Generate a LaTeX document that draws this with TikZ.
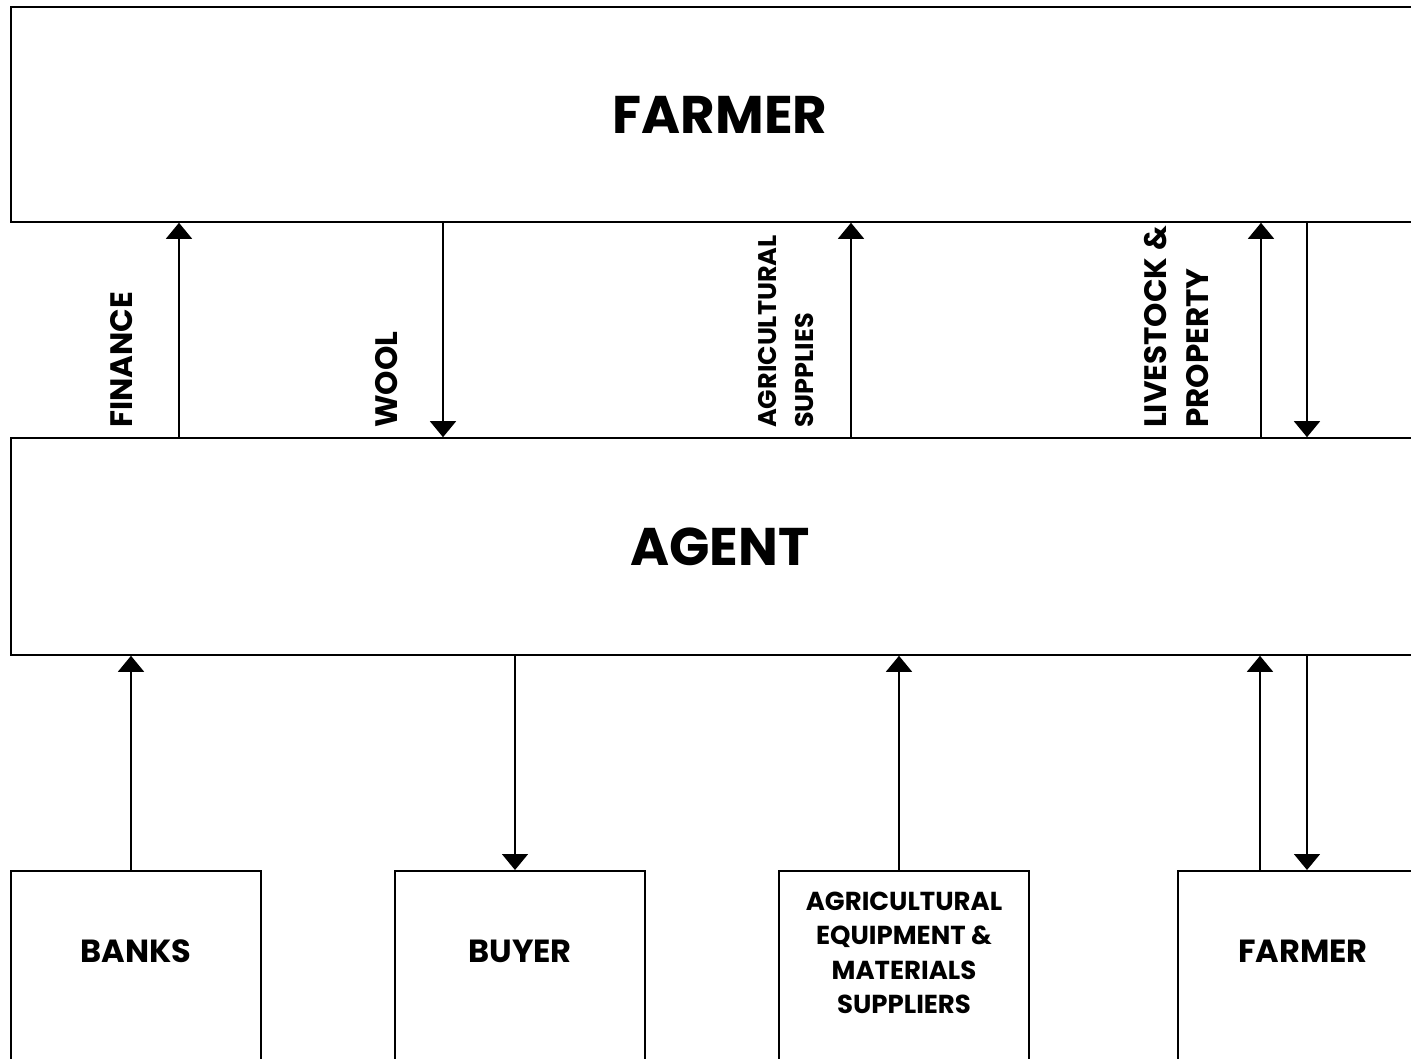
\documentclass[tikz,border=0pt]{standalone}
\usepackage{fontspec}
\setmainfont{Poppins}
\usetikzlibrary{arrows.meta}
\usetikzlibrary{positioning}

\tikzset{
  bigbox/.style={draw, line width=1.6pt, minimum width=1418pt, inner sep=0pt, font=\bfseries\fontsize{53}{60}\selectfont},
  lowbox/.style={draw, line width=1.6pt, anchor=north, minimum width=250pt, minimum height=260pt},
  boxtext/.style={inner sep=0pt, align=center, font=\bfseries\fontsize{32}{40}\selectfont},
  smalltext/.style={inner sep=0pt, align=center, font=\bfseries\fontsize{26}{34.5}\selectfont},
  vlabel/.style={inner sep=0pt, rotate=90, anchor=west, align=left, font=\bfseries\fontsize{31}{42}\selectfont},
  vsmall/.style={vlabel, font=\bfseries\fontsize{25.5}{37}\selectfont},
  flow/.style={line width=1.6pt, -{Triangle[width=26pt,length=16pt]}}
}

\begin{document}
\begin{tikzpicture}[x=1pt,y=-1pt]
\useasboundingbox (0,0) rectangle (1411,1059);
\clip (0,0) rectangle (1411,1059);
% main boxes (run off the right edge)
\node[bigbox, minimum height=215pt] (farmerTop) at (720,114.5) {\raisebox{-4pt}{FARMER}};
\node[bigbox, minimum height=217pt] (agent) at (720,546.5) {\raisebox{-4pt}{AGENT}};
% lower boxes (run off the bottom edge)
\node[lowbox] (banks) at (136,870) {};
\node[lowbox] (buyer) at (520,870) {};
\node[lowbox] (suppliers) at (904,870) {};
\node[lowbox] (farmerLow) at (1303,870) {};
\node[boxtext] (banksT) at (136,951) {BANKS};
\node[boxtext] (buyerT) at (520,951) {BUYER};
\node[smalltext] (suppliersT) at (904,953) {AGRICULTURAL\\EQUIPMENT \&\\MATERIALS\\SUPPLIERS};
\node[boxtext] (farmerLowT) at (1303,951) {FARMER};
% flows between farmer and agent
\draw[flow] (agent.north -| 179,0) -- (farmerTop.south -| 179,0);
\draw[flow] (farmerTop.south -| 443,0) -- (agent.north -| 443,0);
\draw[flow] (agent.north -| 851,0) -- (farmerTop.south -| 851,0);
\draw[flow] (agent.north -| 1261,0) -- (farmerTop.south -| 1261,0);
\draw[flow] (farmerTop.south -| 1307,0) -- (agent.north -| 1307,0);
\node[vlabel] (finLbl) at (122,428) {FINANCE};
\node[vlabel] (woolLbl) at (387,428) {WOOL};
\node[vsmall] (suppLbl) at (786,428) {AGRICULTURAL\\SUPPLIES};
\node[vlabel] (stockLbl) at (1176,428) {LIVESTOCK \&\\PROPERTY};
% flows between agent and the others
\draw[flow] (banks.north -| 131,0) -- (agent.south -| 131,0);
\draw[flow] (agent.south -| 515,0) -- (buyer.north -| 515,0);
\draw[flow] (suppliers.north -| 899,0) -- (agent.south -| 899,0);
\draw[flow] (farmerLow.north -| 1260,0) -- (agent.south -| 1260,0);
\draw[flow] (agent.south -| 1307,0) -- (farmerLow.north -| 1307,0);
\end{tikzpicture}
\end{document}
